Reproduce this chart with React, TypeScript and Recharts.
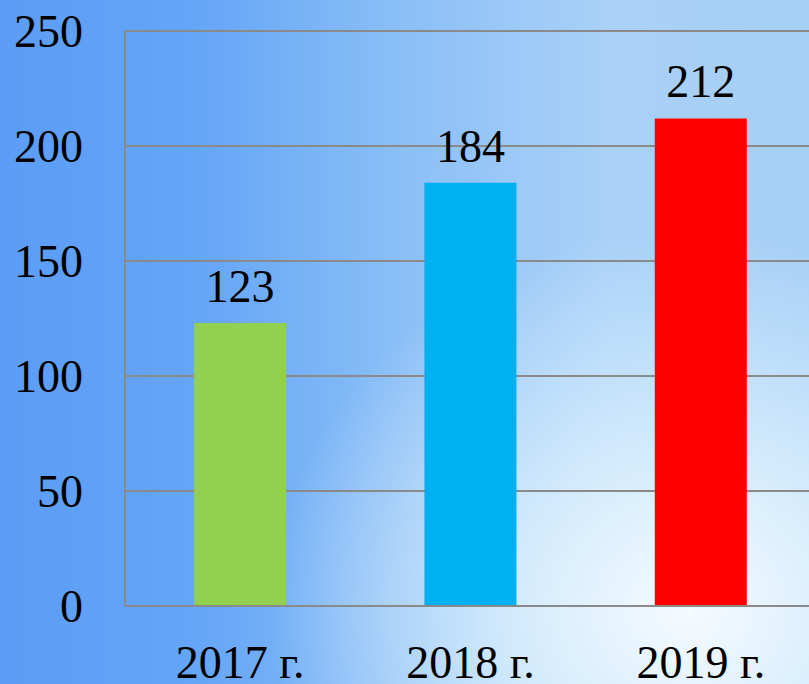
import React from 'react';
import { BarChart, Bar, XAxis, YAxis, CartesianGrid, Cell, LabelList } from 'recharts';

const categories = ['2017 г.', '2018 г.', '2019 г.'];
const values = [123, 184, 212];
const barColors = ['#92d050', '#00b0f0', '#ff0000'];
const yTicks = [0, 50, 100, 150, 200, 250];

const data = categories.map((name, i) => ({ name, value: values[i] }));

const FAMILY = 'Liberation Serif';
const SIZE = 46;

const XTick = (props: any) => {
  const { x, y, payload } = props;
  return (
    <text x={x} y={y} dy="0.71em" textAnchor="middle" style={{ fontFamily: FAMILY, fontSize: SIZE }} fill="#000">
      {payload.value}
    </text>
  );
};

const YTick = (props: any) => {
  const { x, y, payload } = props;
  return (
    <text x={x} y={y} dy="0.355em" textAnchor="end" style={{ fontFamily: FAMILY, fontSize: SIZE }} fill="#000">
      {payload.value}
    </text>
  );
};

const BarLabel = (props: any) => {
  const { x, y, width, value } = props;
  return (
    <text x={Number(x) + Number(width) / 2} y={Number(y) - 21} textAnchor="middle" style={{ fontFamily: FAMILY, fontSize: SIZE }} fill="#000">
      {value}
    </text>
  );
};

export default function App() {
  return (
    <div
      style={{
        position: 'fixed',
        left: 0,
        top: 0,
        width: 809,
        height: 684,
        overflow: 'hidden',
        fontFamily: FAMILY,
        background:
          'radial-gradient(ellipse 420px 380px at 690px 610px, #f6fbff 0%, #d9eefd 35%, rgba(170,210,248,0) 100%), linear-gradient(90deg, #5b9cf6 0%, #66a6f7 25%, #8bbff6 50%, #a9d1f8 75%, #a6cff6 100%)',
      }}
    >
      <BarChart
        width={820}
        height={720}
        data={data}
        margin={{ top: 31, right: 4, bottom: 0, left: 0 }}
        barCategoryGap="30%"
      >
        <CartesianGrid vertical={false} stroke="#8a8a8a" strokeWidth={2} />
        <XAxis
          dataKey="name"
          height={114}
          axisLine={{ stroke: '#8a8a8a', strokeWidth: 2 }}
          tickLine={false}
          tickSize={0}
          tickMargin={39}
          tick={XTick}
          interval={0}
        />
        <YAxis
          width={125}
          domain={[0, 250]}
          ticks={yTicks}
          axisLine={{ stroke: '#8a8a8a', strokeWidth: 2 }}
          tickLine={false}
          tickSize={0}
          tickMargin={42}
          tick={YTick}
          interval={0}
        />
        <Bar dataKey="value" isAnimationActive={false}>
          {data.map((d, i) => (
            <Cell key={d.name} fill={barColors[i]} />
          ))}
          <LabelList dataKey="value" position="top" content={BarLabel} />
        </Bar>
      </BarChart>
    </div>
  );
}
